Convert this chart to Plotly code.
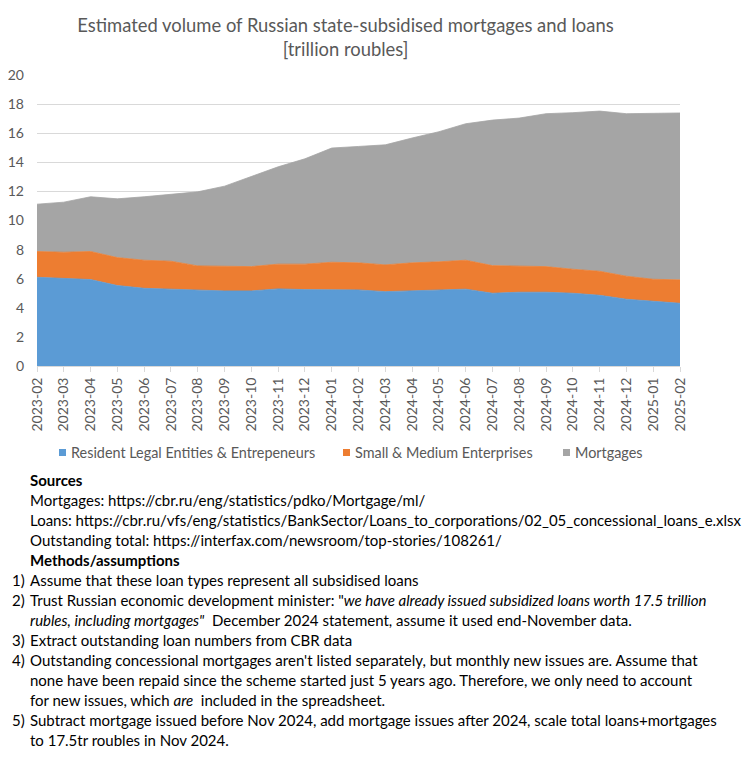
import plotly.graph_objects as go

months = ["2023-02","2023-03","2023-04","2023-05","2023-06","2023-07","2023-08","2023-09",
          "2023-10","2023-11","2023-12","2024-01","2024-02","2024-03","2024-04","2024-05",
          "2024-06","2024-07","2024-08","2024-09","2024-10","2024-11","2024-12","2025-01","2025-02"]

legal_entities = [6.10,6.01,5.94,5.53,5.34,5.28,5.21,5.16,5.16,5.30,5.25,5.25,5.23,5.11,
                  5.16,5.23,5.28,5.00,5.07,5.07,5.00,4.86,4.59,4.45,4.31]
sme = [1.77,1.81,1.93,1.92,1.93,1.92,1.67,1.67,1.67,1.70,1.75,1.88,1.86,1.84,
       1.93,1.93,1.99,1.90,1.79,1.76,1.65,1.65,1.58,1.51,1.61]
mortgages = [3.25,3.44,3.76,4.04,4.36,4.61,5.09,5.53,6.17,6.69,7.24,7.85,8.00,8.25,
             8.58,8.94,9.38,10.00,10.18,10.51,10.76,11.01,11.17,11.43,11.47]

series_names = ["Resident Legal Entities & Entrepeneurs", "Small & Medium Enterprises", "Mortgages"]
colors = ["#5b9bd5", "#ed7d31", "#a5a5a5"]

title_text = "Estimated volume of Russian state-subsidised mortgages and loans<br>[trillion roubles]"

notes = [
    ("", "<b>Sources</b>"),
    ("", "Mortgages: https://cbr.ru/eng/statistics/pdko/Mortgage/ml/"),
    ("", "Loans: https://cbr.ru/vfs/eng/statistics/BankSector/Loans_to_corporations/02_05_concessional_loans_e.xlsx"),
    ("", "Outstanding total: https://interfax.com/newsroom/top-stories/108261/"),
    ("", "<b>Methods/assumptions</b>"),
    ("1)", "Assume that these loan types represent all subsidised loans"),
    ("2)", "Trust Russian economic development minister: \"<i>we have already issued subsidized loans worth 17.5 trillion</i>"),
    ("", "<i>rubles, including mortgages\"</i>  December 2024 statement, assume it used end-November data."),
    ("3)", "Extract outstanding loan numbers from CBR data"),
    ("4)", "Outstanding concessional mortgages aren't listed separately, but monthly new issues are. Assume that"),
    ("", "none have been repaid since the scheme started just 5 years ago. Therefore, we only need to account"),
    ("", "for new issues, which <i>are</i>  included in the spreadsheet."),
    ("5)", "Subtract mortgage issued before Nov 2024, add mortgage issues after 2024, scale total loans+mortgages"),
    ("", "to 17.5tr roubles in Nov 2024."),
]

FONT = "Lato, Roboto, sans-serif"
OFF = 8  # page body margin
W, H = 751 - OFF, 761 - OFF
# plot area in window pixels: x 37..680, y 75..366
L, R, T, B = 37 - OFF, 751 - 680, 75 - OFF, 761 - 366
pw, ph = W - L - R, H - T - B

def px_x(x):
    return (x - OFF - L) / pw

def px_y(y):
    return (H - B - (y - OFF)) / ph

fig = go.Figure()
for name, vals, col in zip(series_names, [legal_entities, sme, mortgages], colors):
    fig.add_trace(go.Scatter(
        x=months, y=vals, name=name, stackgroup="one", mode="lines",
        line=dict(width=0.8, color=col), fillcolor=col, showlegend=False,
    ))

annotations = []
shapes = []

# manual legend (small squares + labels)
legend_sq_x = [59, 343, 563]
legend_y = 452.5
for name, col, sx in zip(series_names, colors, legend_sq_x):
    shapes.append(dict(type="rect", xref="paper", yref="paper",
                       x0=px_x(sx), x1=px_x(sx + 7), y0=px_y(legend_y + 3.5), y1=px_y(legend_y - 3.5),
                       fillcolor=col, line=dict(width=0)))
    annotations.append(dict(text=name, x=px_x(sx + 11), y=px_y(legend_y), xref="paper", yref="paper",
                            xanchor="left", yanchor="middle", showarrow=False, borderpad=0,
                            font=dict(size=14.4, color="#595959", family=FONT)))

y0 = 480
for i, (num, txt) in enumerate(notes):
    yy = y0 + i * 20.0
    if num:
        annotations.append(dict(text=num, x=px_x(11), y=px_y(yy), xref="paper", yref="paper",
                                xanchor="left", yanchor="middle", showarrow=False, borderpad=0,
                                font=dict(size=15, color="#000000", family=FONT)))
    annotations.append(dict(text=txt, x=px_x(29), y=px_y(yy), xref="paper", yref="paper",
                            xanchor="left", yanchor="middle", showarrow=False, borderpad=0,
                            font=dict(size=15, color="#000000", family=FONT)))

fig.update_layout(
    width=W, height=H,
    margin=dict(l=L, r=R, t=T, b=B, autoexpand=False),
    paper_bgcolor="white", plot_bgcolor="white",
    title=dict(text=title_text, x=px_x(345.5), xref="paper", xanchor="center",
               y=1 - (32 - OFF) / H, yanchor="middle",
               font=dict(size=18.4, color="#595959", family=FONT)),
    font=dict(family=FONT, color="#595959", size=14),
    showlegend=False,
    annotations=annotations,
    shapes=shapes,
    xaxis=dict(type="category", range=[0, len(months) - 1], tickangle=-90,
               showgrid=False, showline=True, linecolor="#d9d9d9", linewidth=1,
               ticks="outside", ticklen=5, tickcolor="#d9d9d9", automargin=False,
               tickfont=dict(size=14, color="#595959", family=FONT)),
    yaxis=dict(range=[0, 20], dtick=2, showgrid=True, gridcolor="#d9d9d9", gridwidth=1,
               zeroline=False, showline=False, ticks="", automargin=False,
               ticklabelstandoff=12,
               tickfont=dict(size=14, color="#595959", family=FONT)),
)

fig.write_html("out.html")
